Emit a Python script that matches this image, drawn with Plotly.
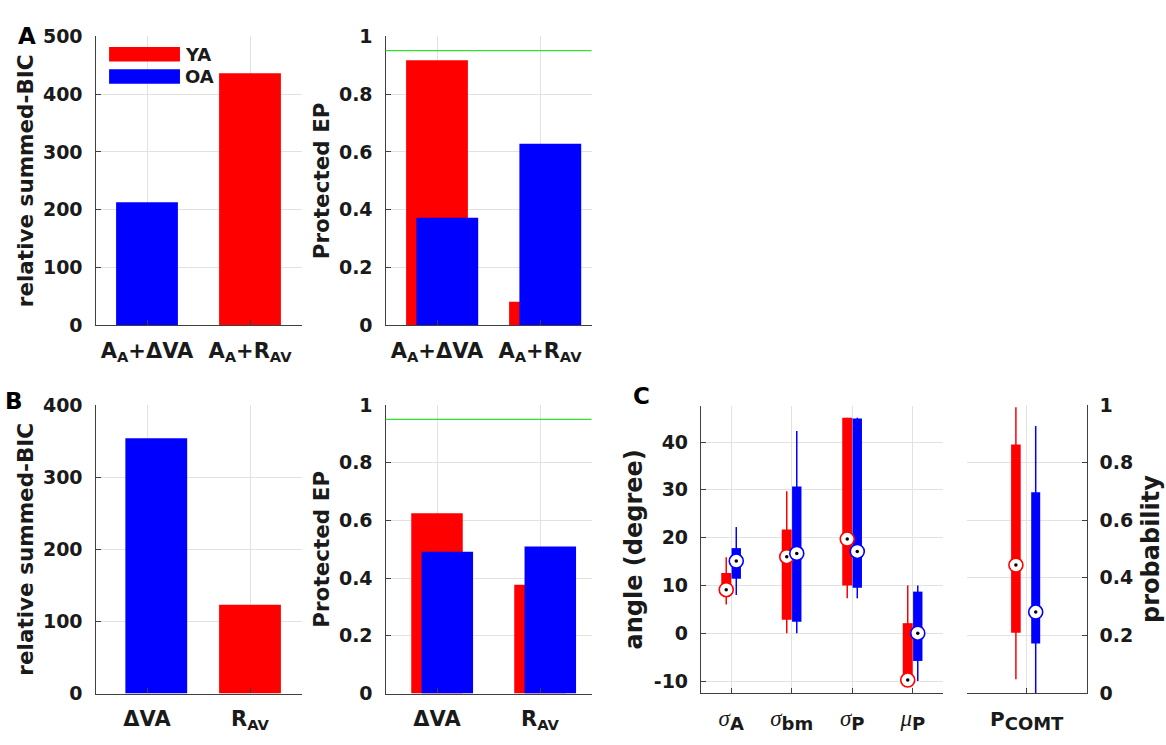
import plotly.graph_objects as go

RED = '#ff0000'
BLUE = '#0000ff'
GREEN = '#33dd33'
FONT = 'DejaVu Sans'
AXC = '#404040'
TXT = '#1a1a1a'
GRID = '#e2e2e2'

# ---------------- data ----------------
groups = ['YA', 'OA']
group_colors = {'YA': RED, 'OA': BLUE}

# Panel A (models with attention term)
A_models = ['A<sub>A</sub>+ΔVA', 'A<sub>A</sub>+R<sub>AV</sub>']
A_bic = [213, 436]                 # relative summed-BIC, one bar per model
A_bic_group = ['OA', 'YA']
A_pep_YA = [0.917, 0.082]
A_pep_OA = [0.372, 0.628]

# Panel B
B_models = ['ΔVA', 'R<sub>AV</sub>']
B_bic = [354, 123]
B_bic_group = ['OA', 'YA']
B_pep_YA = [0.625, 0.377]
B_pep_OA = [0.491, 0.510]

PEP_THRESHOLD = 0.95

# Panel C (parameter estimates)
SERIF = '<span style="font-family:Liberation Serif;font-weight:normal;font-size:23px"><i>{}</i></span>'
SUBS = '<sub><span style="font-size:18px">{}</span></sub>'
C_symbols = ['σ', 'σ', 'σ', 'μ']
C_subscripts = ['A', 'bm', 'P', 'P']
C_params = [SERIF.format(s) + SUBS.format(b) for s, b in zip(C_symbols, C_subscripts)]
YA_lo = [6.0, 0.0, 7.3, -10.0]
YA_q1 = [10.2, 2.8, 10.0, -10.0]
YA_q3 = [12.6, 21.7, 45.1, 2.1]
YA_hi = [15.9, 29.7, 45.1, 10.0]
YA_pt = [9.1, 16.0, 19.7, -9.8]
OA_lo = [8.0, 0.0, 7.3, -10.0]
OA_q1 = [11.4, 2.4, 9.5, -5.8]
OA_q3 = [17.8, 30.7, 44.9, 8.7]
OA_hi = [22.2, 42.3, 45.1, 10.0]
OA_pt = [15.1, 16.7, 17.1, 0.0]

P_params = ['<span style="font-size:20px">P</span>' + SUBS.format('COMT')]
YA_P = dict(lo=[0.048], q1=[0.209], q3=[0.863], hi=[0.992], pt=[0.444])
OA_P = dict(lo=[0.0], q1=[0.172], q3=[0.697], hi=[0.927], pt=[0.281])

angle_ticks = [-10, 0, 10, 20, 30, 40]
angle_text = ['-10', '0', '10', '20', '30', '40']

# ---------------- figure ----------------
fig = go.Figure()
W, H = 1166, 745


def dom_x(a, b):
    return [a / W, b / W]


def dom_y(top, bottom):
    return [1 - bottom / H, 1 - top / H]


def add_bar(xa, ya, x, y, color, width, base=None):
    fig.add_trace(go.Bar(x=x, y=y, base=base, width=width, marker=dict(color=color, line=dict(width=0)),
                         xaxis=xa, yaxis=ya, showlegend=False, hoverinfo='skip'))


cats2 = [1, 2]
# A left: summed BIC
for i, (v, g) in enumerate(zip(A_bic, A_bic_group)):
    add_bar('x', 'y', [cats2[i]], [v], group_colors[g], 0.6)
# A mid: PEP
add_bar('x2', 'y2', cats2, A_pep_YA, RED, 0.6)
add_bar('x2', 'y2', [c + 0.1 for c in cats2], A_pep_OA, BLUE, 0.6)
# B left
B_off = {'OA': 0.09, 'YA': 0.0}
for i, (v, g) in enumerate(zip(B_bic, B_bic_group)):
    add_bar('x3', 'y3', [cats2[i] + B_off[g]], [v], group_colors[g], 0.6)
# B mid
add_bar('x4', 'y4', cats2, B_pep_YA, RED, 0.5)
add_bar('x4', 'y4', [c + 0.1 for c in cats2], B_pep_OA, BLUE, 0.5)


def add_boxes(xa, ya, cats, lo, q1, q3, hi, color, off, width):
    xs = [c + off for c in cats]
    wx, wy = [], []
    for x, a, b in zip(xs, lo, hi):
        wx += [x, x, None]
        wy += [a, b, None]
    fig.add_trace(go.Scatter(x=wx, y=wy, mode='lines', line=dict(color=color, width=1.5),
                             xaxis=xa, yaxis=ya, showlegend=False, hoverinfo='skip'))
    fig.add_trace(go.Bar(x=xs, y=[b - a for a, b in zip(q1, q3)], base=q1, width=width,
                         marker=dict(color=color, line=dict(width=0)),
                         xaxis=xa, yaxis=ya, showlegend=False, hoverinfo='skip'))


def add_points(xa, ya, cats, pt, color, off):
    xs = [c + off for c in cats]
    fig.add_trace(go.Scatter(x=xs, y=pt, mode='markers',
                             marker=dict(symbol='circle', size=14, color='white', line=dict(color=color, width=1.6)),
                             xaxis=xa, yaxis=ya, showlegend=False, hoverinfo='skip', cliponaxis=False))
    fig.add_trace(go.Scatter(x=xs, y=pt, mode='markers',
                             marker=dict(symbol='circle', size=3.5, color='black'),
                             xaxis=xa, yaxis=ya, showlegend=False, hoverinfo='skip', cliponaxis=False))


cats4 = [1, 2, 3, 4]
add_boxes('x5', 'y5', cats4, YA_lo, YA_q1, YA_q3, YA_hi, RED, -0.083, 0.165)
add_boxes('x5', 'y5', cats4, OA_lo, OA_q1, OA_q3, OA_hi, BLUE, 0.083, 0.155)
add_points('x5', 'y5', cats4, YA_pt, RED, -0.083)
add_points('x5', 'y5', cats4, OA_pt, BLUE, 0.083)

cats1 = [1]
add_boxes('x6', 'y6', cats1, YA_P['lo'], YA_P['q1'], YA_P['q3'], YA_P['hi'], RED, -0.09, 0.08)
add_boxes('x6', 'y6', cats1, OA_P['lo'], OA_P['q1'], OA_P['q3'], OA_P['hi'], BLUE, 0.075, 0.075)
add_points('x6', 'y6', cats1, YA_P['pt'], RED, -0.09)
add_points('x6', 'y6', cats1, OA_P['pt'], BLUE, 0.075)

# ---------------- axes ----------------
tick_font = dict(family=FONT, size=19, color=TXT, weight='bold')
xtick_font = dict(family=FONT, size=21, color=TXT, weight='bold')
title_font = dict(family=FONT, size=21.5, color=TXT, weight='bold')


def xax(domain, anchor, tickvals, ticktext, rng, font=xtick_font, standoff=6):
    return dict(domain=domain, anchor=anchor, range=rng, tickvals=tickvals, ticktext=ticktext,
                showgrid=True, gridcolor=GRID, gridwidth=1, showline=True, linecolor=AXC, linewidth=1.2,
                ticks='inside', ticklen=5, tickcolor=AXC, tickfont=font, zeroline=False,
                ticklabelstandoff=standoff)


def yax(domain, anchor, rng, tickvals, ticktext, title, standoff, side='left', tfont=title_font, font=tick_font):
    return dict(domain=domain, anchor=anchor, range=rng, tickvals=tickvals, ticktext=ticktext, side=side,
                showgrid=True, gridcolor=GRID, gridwidth=1, showline=True, linecolor=AXC, linewidth=1.2,
                ticks='inside', ticklen=5, tickcolor=AXC, tickfont=font, zeroline=False,
                title=dict(text=title, font=tfont, standoff=standoff), ticklabelstandoff=8)


pep_ticks = [0, 0.2, 0.4, 0.6, 0.8, 1]
pep_text = ['0', '0.2', '0.4', '0.6', '0.8', '1']
c_xfont = dict(family=FONT, size=20, color=TXT, weight='bold')

fig.update_layout(
    xaxis=xax(dom_x(95.5, 301.5), 'y', cats2, A_models, [0.5, 2.5]),
    yaxis=yax(dom_y(26, 324), 'x', [0, 500], [0, 100, 200, 300, 400, 500], None, 'relative summed-BIC', 3),
    xaxis2=xax(dom_x(385.5, 591.5), 'y2', cats2, A_models, [0.5, 2.5]),
    yaxis2=yax(dom_y(26, 324), 'x2', [0, 1], pep_ticks, pep_text, 'Protected EP', 3),
    xaxis3=xax(dom_x(95.5, 301.5), 'y3', cats2, B_models, [0.5, 2.5]),
    yaxis3=yax(dom_y(406, 703.3), 'x3', [0, 400], [0, 100, 200, 300, 400], None, 'relative summed-BIC', 3),
    xaxis4=xax(dom_x(385.5, 591.5), 'y4', cats2, B_models, [0.5, 2.5]),
    yaxis4=yax(dom_y(406, 703.3), 'x4', [0, 1], pep_ticks, pep_text, 'Protected EP', 3),
    xaxis5=xax(dom_x(701, 943), 'y5', cats4, C_params, [0.5, 4.5], font=c_xfont, standoff=8),
    yaxis5=yax(dom_y(406.7, 702.7), 'x5', [-12.5, 47.6], angle_ticks, angle_text, 'angle (degree)', 4,
               tfont=dict(family=FONT, size=24, color=TXT, weight='bold')),
    xaxis6=xax(dom_x(966.7, 1086.7), 'y6', cats1, P_params, [0.5, 1.5], font=c_xfont, standoff=8),
    yaxis6=yax(dom_y(406, 702.7), 'x6', [0, 1], pep_ticks, pep_text, 'probability', 9, side='right',
               tfont=dict(family=FONT, size=24, color=TXT, weight='bold')),
    barmode='overlay',
    width=W, height=H,
    margin=dict(l=0, r=0, t=0, b=0),
    paper_bgcolor='white', plot_bgcolor='white',
    font=dict(family=FONT, color=TXT),
)

shapes = []
# threshold lines on PEP panels
for xa, ya in [('x2', 'y2'), ('x4', 'y4')]:
    shapes.append(dict(type='line', xref=f'{xa} domain', yref=ya, x0=0, x1=1,
                       y0=PEP_THRESHOLD, y1=PEP_THRESHOLD, line=dict(color=GREEN, width=1.3)))
# legend patches (panel A left)
for g, (y0, y1) in zip(groups, [(0.913, 0.963), (0.836, 0.886)]):
    shapes.append(dict(type='rect', xref='x domain', yref='y domain', x0=0.066, x1=0.41, y0=y0, y1=y1,
                       fillcolor=group_colors[g], line=dict(width=0)))
fig.update_layout(shapes=shapes)

ann = []
for g, yc in zip(groups, [0.938, 0.861]):
    ann.append(dict(text=g, xref='x domain', yref='y domain', x=0.425, y=yc, xanchor='left', yanchor='middle',
                    showarrow=False, font=dict(family=FONT, size=18, color=TXT, weight='bold')))
for letter, px, py in [('A', 27, 26), ('B', 14, 402), ('C', 641, 397)]:
    ann.append(dict(text=letter, xref='paper', yref='paper', x=px / W, y=1 - py / H, xanchor='center',
                    yanchor='middle', showarrow=False, font=dict(family=FONT, size=23, color='black', weight='bold')))
fig.update_layout(annotations=ann)

fig.write_html('out.html')
